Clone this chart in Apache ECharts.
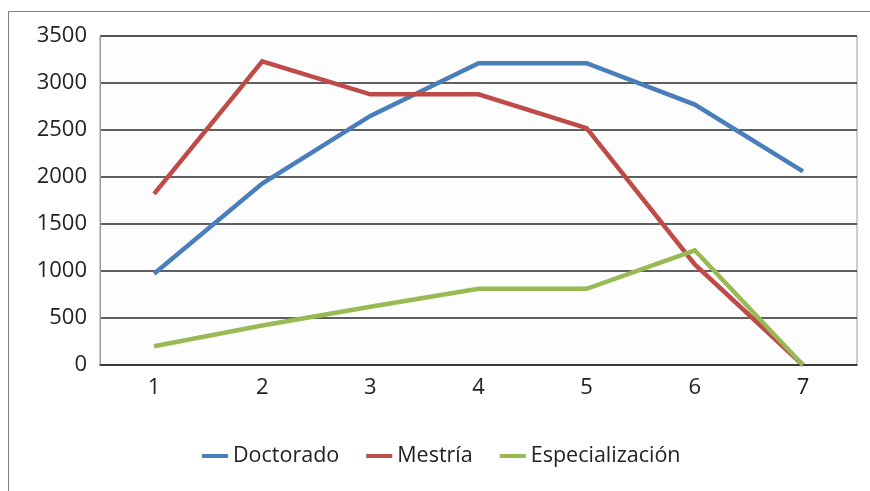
<!DOCTYPE html>
<html>
<head>
<meta charset="utf-8">
<script src="https://cdn.jsdelivr.net/npm/echarts@6/dist/echarts.min.js"></script>
<style>
html,body{margin:0;padding:0;background:#fff;}
#c{width:870px;height:491px;}
</style>
</head>
<body>
<div id="c"></div>
<script>
const categories = ['1','2','3','4','5','6','7'];
const doctorado = [970, 1930, 2650, 3210, 3210, 2770, 2060];
const mestria = [1820, 3230, 2880, 2880, 2520, 1070, 0];
const especializacion = [200, 420, 620, 810, 810, 1220, 0];
const seriesNames = ['Doctorado', 'Mestría', 'Especialización'];
const colors = ['#4A7EBB', '#BE4B48', '#98B954'];

const font = '"Open Sans", "Noto Sans", sans-serif';
const chart = echarts.init(document.getElementById('c'));
function mk(name, data, color) {
  return {
    name: name, type: 'line', data: data, symbol: 'none',
    lineStyle: { color: color, width: 4.5, join: 'miter' },
    itemStyle: { color: color },
    animation: false
  };
}
chart.setOption({
  animation: false,
  backgroundColor: '#fff',
  graphic: [{
    type: 'rect', shape: { x: 8.5, y: 11.5, width: 1000, height: 1000 },
    style: { fill: 'none', stroke: '#808080', lineWidth: 1 }, z: -1
  }],
  grid: { left: 100, right: 13, top: 36, bottom: 126, containLabel: false,
    show: true, borderColor: '#9a9a9a', borderWidth: 1, backgroundColor: '#fdfdfd' },
  legend: {
    data: seriesNames, bottom: 19, left: 197,
    icon: 'rect', itemWidth: 26, itemHeight: 4, itemGap: 27,
    textStyle: { fontFamily: font, fontSize: 21.5, color: '#222' }
  },
  xAxis: {
    type: 'category', data: categories, boundaryGap: true,
    axisLine: { show: true, lineStyle: { color: '#333', width: 1.5 } },
    axisTick: { show: false },
    axisLabel: { fontFamily: font, fontSize: 22, color: '#222', margin: 12 }
  },
  yAxis: {
    type: 'value', min: 0, max: 3500, interval: 500,
    axisLine: { show: true, lineStyle: { color: '#9a9a9a' } },
    axisTick: { show: false },
    splitLine: { lineStyle: { color: '#2a2a2a', width: 1.5 } },
    axisLabel: { fontFamily: font, fontSize: 22, color: '#222', margin: 13,
      formatter: function (v) { return String(v); } }
  },
  series: [
    mk(seriesNames[0], doctorado, colors[0]),
    mk(seriesNames[1], mestria, colors[1]),
    mk(seriesNames[2], especializacion, colors[2])
  ]
});
</script>
</body>
</html>
